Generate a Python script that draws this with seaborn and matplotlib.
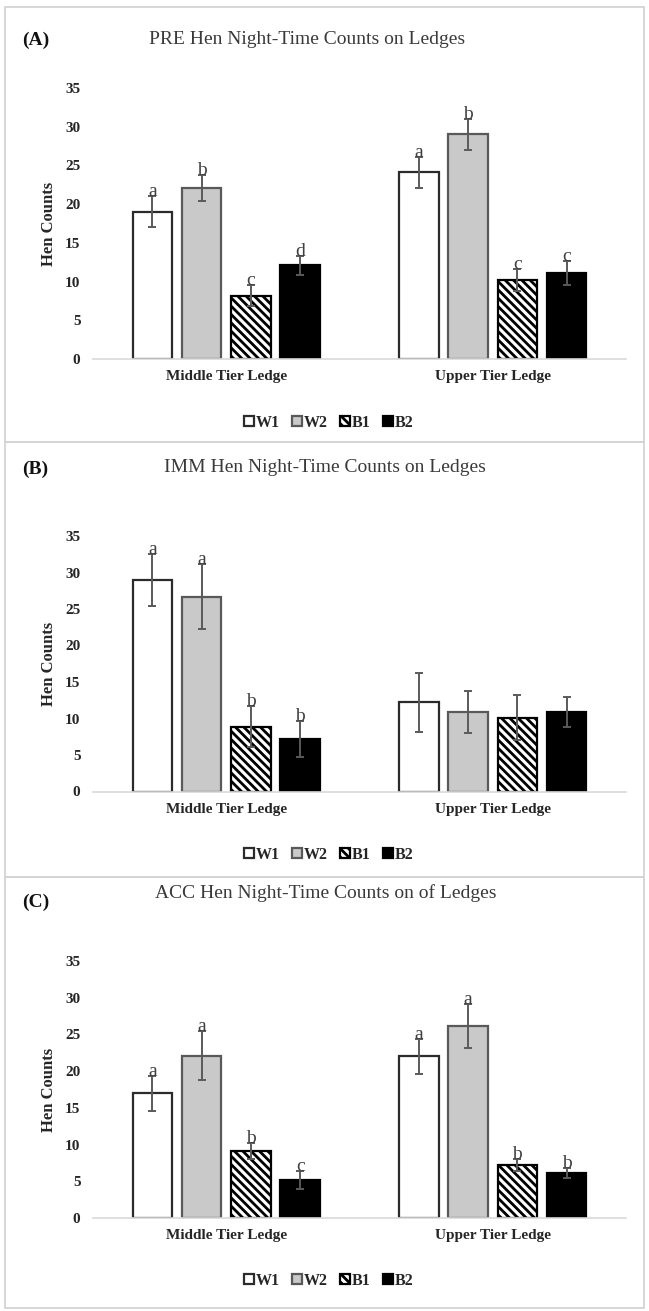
import pandas as pd
import matplotlib
matplotlib.use("Agg")
import matplotlib.pyplot as plt
import seaborn as sns
from matplotlib.patches import Rectangle

# Hen night-time counts on ledges, three periods (PRE, IMM, ACC)
groups = ["W1", "W2", "B1", "B2"]
ledges = ["Middle Tier Ledge", "Upper Tier Ledge"]

pre_middle = [19.0, 22.1, 8.2, 12.1]
pre_upper = [24.1, 29.0, 10.2, 11.1]
pre_middle_err = [2.0, 1.7, 1.3, 1.2]
pre_upper_err = [2.0, 2.0, 1.4, 1.6]
pre_middle_letters = ["a", "b", "c", "d"]
pre_upper_letters = ["a", "b", "c", "c"]

imm_middle = [29.0, 26.7, 8.9, 7.2]
imm_upper = [12.2, 10.9, 10.1, 10.9]
imm_middle_err = [3.6, 4.4, 2.8, 2.5]
imm_upper_err = [4.0, 2.9, 3.1, 2.1]
imm_middle_letters = ["a", "a", "b", "b"]
imm_upper_letters = ["", "", "", ""]

acc_middle = [17.0, 22.1, 9.1, 5.2]
acc_upper = [22.0, 26.1, 7.2, 6.1]
acc_middle_err = [2.4, 3.3, 1.1, 1.2]
acc_upper_err = [2.4, 3.0, 0.8, 0.7]
acc_middle_letters = ["a", "a", "b", "c"]
acc_upper_letters = ["a", "a", "b", "b"]

titles = ["PRE Hen Night-Time Counts on Ledges",
          "IMM Hen Night-Time Counts on Ledges",
          "ACC Hen Night-Time Counts on of Ledges"]
panel_tags = ["(A)", "(B)", "(C)"]

sns.set_theme(style="white")
plt.rcParams["font.family"] = ["Liberation Serif", "DejaVu Serif"]
plt.rcParams["hatch.linewidth"] = 2.0

W, H = 649, 1311
fig = plt.figure(figsize=(W / 100, H / 100), dpi=100)

def fx(px):
    return px / W

def fy(py):
    return 1 - py / H

# layout in pixels: (axes top, zero line, title y, tag y, legend y, frame top, frame bottom, title x)
layout = [
    (88, 359, 39, 40, 423, 7, 442, 307),
    (536, 791.5, 467, 469, 855, 442, 877, 325),
    (961, 1218, 893, 902, 1281, 877, 1308, 326),
]

panels = [
    (pre_middle, pre_upper, pre_middle_err, pre_upper_err, pre_middle_letters, pre_upper_letters),
    (imm_middle, imm_upper, imm_middle_err, imm_upper_err, imm_middle_letters, imm_upper_letters),
    (acc_middle, acc_upper, acc_middle_err, acc_upper_err, acc_middle_letters, acc_upper_letters),
]

palette = {"W1": "white", "W2": "#c9c9c9", "B1": "white", "B2": "black"}
edges = {"W1": "#2b2b2b", "W2": "#595959", "B1": "black", "B2": "black"}
hatches = {"W1": "", "W2": "", "B1": "\\\\\\\\", "B2": ""}

ax_left, ax_right = 93, 626

for i, (mid, up, mid_err, up_err, mid_let, up_let) in enumerate(panels):
    top, zero, ty, tagy, legy, f_top, f_bot, tx = layout[i]

    fig.add_artist(Rectangle((fx(5), fy(f_bot)), fx(644) - fx(5), fy(f_top) - fy(f_bot),
                             transform=fig.transFigure, fill=False,
                             edgecolor="#d4d4d4", linewidth=1.3))

    ax = fig.add_axes([fx(ax_left), fy(zero), fx(ax_right) - fx(ax_left), fy(top) - fy(zero)])

    df = pd.DataFrame({
        "ledge": [ledges[0]] * 4 + [ledges[1]] * 4,
        "group": groups * 2,
        "count": mid + up,
    })
    errs = {ledges[0]: mid_err, ledges[1]: up_err}
    letters = {ledges[0]: mid_let, ledges[1]: up_let}

    sns.barplot(data=df, x="ledge", y="count", hue="group", order=ledges,
                hue_order=groups, palette=palette, saturation=1, width=0.74,
                gap=0.2, errorbar=None, legend=False, ax=ax)

    for g, cont in zip(groups, ax.containers):
        gi = groups.index(g)
        for bar, led in zip(cont.patches, ledges):
            bar.set_edgecolor(edges[g])
            bar.set_linewidth(1.6)
            bar.set_hatch(hatches[g])
            cx = bar.get_x() + bar.get_width() / 2
            val = bar.get_height()
            e = errs[led][gi]
            ax.errorbar(cx, val, yerr=e, color="#5a5a5a", elinewidth=1.4,
                        capsize=3.2, capthick=1.4, zorder=5)
            lab = letters[led][gi]
            if lab:
                ax.text(cx, val + e, lab, ha="center", va="baseline",
                        fontsize=14, color="#404040", zorder=6)

    ax.set_ylim(0, 35)
    ax.set_xlim(-0.5, 1.5)
    ax.set_yticks(range(0, 36, 5))
    for s in ["top", "right", "left"]:
        ax.spines[s].set_visible(False)
    ax.spines["bottom"].set_color("#d9d9d9")
    ax.spines["bottom"].set_linewidth(1.2)
    ax.tick_params(axis="both", length=0, labelsize=11, colors="#262626")
    ax.tick_params(axis="y", pad=9)
    ax.tick_params(axis="x", pad=8)
    for t in ax.get_xticklabels() + ax.get_yticklabels():
        t.set_fontweight("bold")
    ax.set_xlabel("")
    ax.set_ylabel("Hen Counts", fontsize=12, fontweight="bold", color="#262626", labelpad=6)
    ax.grid(False)

    # legend centred under the plot, position given in pixels
    anchor = ((329 - ax_left) / (ax_right - ax_left), (zero - legy) / (zero - top))
    leg = ax.legend(ax.containers, groups, loc="center", bbox_to_anchor=anchor,
                    ncol=4, frameon=False, handlelength=0.6, handleheight=0.6,
                    handletextpad=0.15, columnspacing=0.75,
                    prop={"weight": "bold", "size": 11.5})
    for t in leg.get_texts():
        t.set_color("#262626")

    fig.text(fx(tx), fy(ty), titles[i], ha="center", va="center", fontsize=14, color="#3a3a3a")
    fig.text(fx(22), fy(tagy), panel_tags[i], ha="left", va="center", fontsize=14,
             fontweight="bold", color="#111111")

fig.savefig("out.png", dpi=100)
